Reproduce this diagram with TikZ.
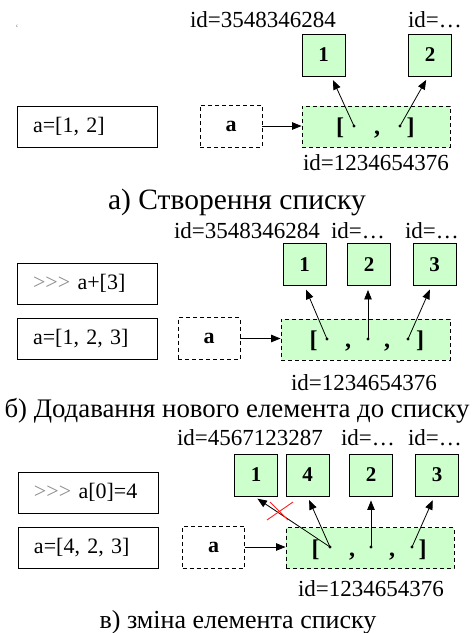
\documentclass[tikz,border=0pt]{standalone}
\usepackage{fontspec}
\setmainfont{Liberation Serif}
\usepackage{xcolor}
\definecolor{listGreen}{HTML}{CCFFCC}
\definecolor{promptGray}{HTML}{8C8C8C}
\definecolor{crossRed}{HTML}{FF2020}
\usetikzlibrary{arrows.meta}
\newcommand{\pxfont}[1]{\fontsize{#1}{#1}\selectfont}
\tikzset{
    % Statement boxes on the left
    code box/.style={
        draw,
        line width=0.9pt,
        minimum height=41pt,
        text width=108pt,
        inner xsep=16pt,
        align=left,
        font=\pxfont{22},
    },
    % Dashed box for the variable name
    name box/.style={
        draw,
        line width=0.9pt,
        dash pattern=on 4pt off 3pt,
        minimum width=62pt,
        minimum height=42pt,
        font=\pxfont{22}\bfseries,
    },
    % Dashed green list object
    list box/.style={
        draw,
        line width=0.9pt,
        dash pattern=on 4pt off 3pt,
        fill=listGreen,
        minimum height=41pt,
    },
    % Element objects
    item box/.style={
        draw,
        line width=0.9pt,
        fill=listGreen,
        minimum width=43pt,
        minimum height=42pt,
        font=\pxfont{21}\bfseries,
    },
    bracket/.style={anchor=base, inner sep=0pt, font=\pxfont{24}\bfseries},
    id label/.style={anchor=base, inner sep=0pt, font=\pxfont{23}},
    caption/.style={anchor=base, inner sep=0pt, font=\pxfont{#1}},
    tick/.style={inner sep=0pt, text=promptGray, font=\pxfont{10}},
    ptr/.style={
        -{Triangle[length=9.5pt, width=7.5pt]},
        line width=0.8pt,
        shorten >=4pt,
    },
    cross/.style={draw=crossRed, line width=0.9pt},
}
\newcommand{\prompt}{\textcolor{promptGray}{>{}>{}>}}

\begin{document}
\begin{tikzpicture}[x=1pt, y=-1pt]
    \useasboundingbox (0,0) rectangle (474,633);

    % а) Створення списку
    \node[tick] (tick) at (17,28) {`};
    \node[id label] (idA1) at (263,27) {id=3548346284};
    \node[id label] (idA2) at (435,27) {id=…};
    \node[item box] (itA1) at (323.5,55) {1};
    \node[item box] (itA2) at (430,55) {2};
    \node[code box] (codeA) at (87,126.5) {a=[1, 2]};
    \node[name box] (nameA) at (231,126) {a};
    \node[list box, minimum width=148pt] (listA) at (376,126.5) {};
    \node[bracket] (lbA) at (340,134) {[};
    \node[bracket] (cmA1) at (377,134) {,};
    \node[bracket] (rbA) at (410.5,134) {]};
    \coordinate (dA1) at (354,126);
    \coordinate (dA2) at (400,126);
    \node[id label] (idA3) at (376,170) {id=1234654376};
    \node[caption=29.5] (capA) at (237,209) {а) Створення списку};

    \fill (dA1) circle (1.7pt);
    \fill (dA2) circle (1.7pt);
    \draw[ptr, shorten >=0pt] (nameA.east) -- (nameA.east -| listA.west);
    \draw[ptr] (dA1) -- (itA1.290);
    \draw[ptr] (dA2) -- (itA2.265);

    % б) Додавання нового елемента до списку
    \node[id label] (idB1) at (247,238) {id=3548346284};
    \node[id label] (idB2) at (358,238) {id=…};
    \node[id label] (idB3) at (432,238) {id=…};
    \node[item box] (itB1) at (304.5,264.5) {1};
    \node[item box] (itB2) at (369,264.5) {2};
    \node[item box] (itB3) at (434.5,264.5) {3};
    \node[code box] (codeB1) at (87,283.5) {\prompt{} a+[3]};
    \node[code box] (codeB2) at (87,339) {a=[1, 2, 3]};
    \node[name box] (nameB) at (209,338.5) {a};
    \node[list box, minimum width=169pt] (listB) at (365.5,339.5) {};
    \node[bracket] (lbB) at (313.5,347) {[};
    \node[bracket] (cmB1) at (348,347) {,};
    \node[bracket] (cmB2) at (387,347) {,};
    \node[bracket] (rbB) at (420,347) {]};
    \coordinate (dB1) at (327,339);
    \coordinate (dB2) at (368,339);
    \coordinate (dB3) at (408,339);
    \node[id label] (idB4) at (364,390) {id=1234654376};
    \node[caption=26.8] (capB) at (237,417) {б) Додавання нового елемента до списку};

    \fill (dB1) circle (1.7pt);
    \fill (dB2) circle (1.7pt);
    \fill (dB3) circle (1.7pt);
    \draw[ptr, shorten >=0pt] (nameB.east) -- (nameB.east -| listB.west);
    \draw[ptr] (dB1) -- (itB1.south);
    \draw[ptr] (dB2) -- (dB2 |- itB2.south);
    \draw[ptr] (dB3) -- (itB3.262);

    % в) зміна елемента списку
    \node[id label] (idC1) at (250,445) {id=4567123287};
    \node[id label] (idC2) at (368,445) {id=…};
    \node[id label] (idC3) at (435,445) {id=…};
    \node[item box] (itC1) at (256,475) {1};
    \node[item box] (itC4) at (307.5,475) {4};
    \node[item box] (itC2) at (371,475) {2};
    \node[item box] (itC3) at (437,475) {3};
    \node[code box] (codeC1) at (88,492.5) {\prompt{} a[0]=4};
    \node[code box] (codeC2) at (88,547.5) {a=[4, 2, 3]};
    \node[name box] (nameC) at (213.5,547) {a};
    \node[list box, minimum width=168pt] (listC) at (370,548) {};
    \node[bracket] (lbC) at (315.5,556) {[};
    \node[bracket] (cmC1) at (352,556) {,};
    \node[bracket] (cmC2) at (392,556) {,};
    \node[bracket] (rbC) at (422.5,556) {]};
    \coordinate (dC1) at (330,547);
    \coordinate (dC2) at (371,547);
    \coordinate (dC3) at (412,547);
    \coordinate (xC) at (280,511);
    \node[id label] (idC4) at (371,596) {id=1234654376};
    \node[caption=26] (capC) at (238,628) {в) зміна елемента списку};

    \fill (dC1) circle (1.7pt);
    \fill (dC2) circle (1.7pt);
    \fill (dC3) circle (1.7pt);
    \draw[ptr, shorten >=0pt] (nameC.east) -- (nameC.east -| listC.west);
    \draw[ptr] (dC1) -- (itC1.265);
    \draw[ptr] (dC1) -- (itC4.south);
    \draw[ptr] (dC2) -- (dC2 |- itC2.south);
    \draw[ptr] (dC3) -- (itC3.263);
    \draw[cross] (xC) ++(-13,9) -- ++(26,-18);
    \draw[cross] (xC) ++(-10,-9) -- ++(18,18);
\end{tikzpicture}
\end{document}
